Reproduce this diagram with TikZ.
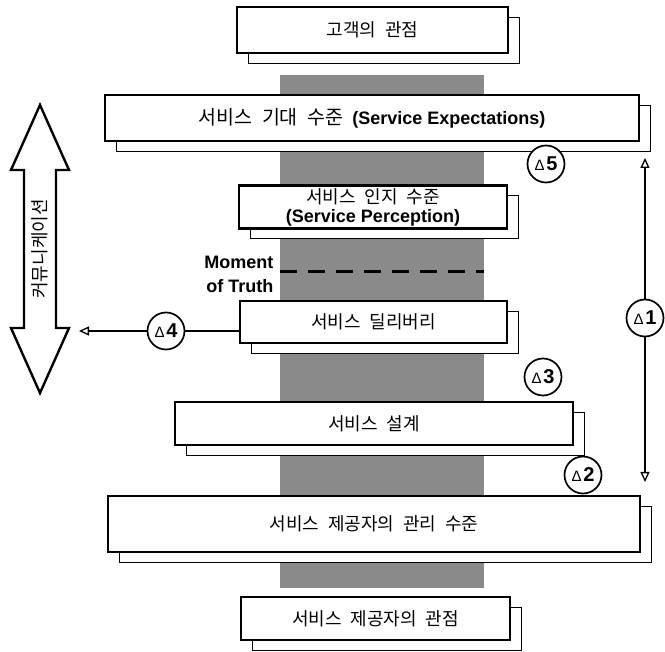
\documentclass[tikz,border=0pt]{standalone}
\usepackage{fontspec}
\setmainfont{Liberation Sans}
\newfontfamily\kr[WordSpace=2.2]{Noto Sans CJK KR}
\usepackage{tikz}
\usetikzlibrary{shadows,arrows.meta}
\tikzstyle{levelbox} = [draw, line width=2.2pt, fill=white, inner sep=0pt, align=center, font=\kr\fontsize{18}{22}\selectfont, copy shadow={shadow xshift=11pt, shadow yshift=-10pt, draw=black, line width=0.8pt, fill=white}]
\tikzstyle{gap} = [circle, draw, line width=1.7pt, fill=white, minimum size=37pt, inner sep=0pt]
\tikzstyle{link} = [line width=1.3pt, -{Triangle[open,length=10pt,width=9pt]}]
\newcommand{\engl}[1]{{\normalfont\bfseries #1}}
\newcommand{\gapno}[1]{{\normalfont\fontsize{15}{15}\selectfont Δ}\,{\normalfont\bfseries\fontsize{20}{20}\selectfont #1}}

\begin{document}
\begin{tikzpicture}[x=1pt,y=-1pt]
\useasboundingbox (0,0) rectangle (665,652);
%\draw[help lines,step=50] (0,0) grid (665,652);
\fill[black!46] (280,75) rectangle (484,588);
\draw[line width=3pt, dash pattern=on 17pt off 11pt] (280,272) -- (484,272);
\node[font=\bfseries\fontsize{18}{24}\selectfont, align=right, anchor=east] (truth) at (277,274) {Moment\\of Truth};

\node[levelbox, minimum width=271pt, minimum height=46pt] (customer) at (372.5,30) {고객의 관점};
\node[levelbox, minimum width=534pt, minimum height=46pt] (expect) at (372,118) {{\fontsize{19.5}{22}\selectfont 서비스 기대 수준} \engl{(Service Expectations)}};
\node[levelbox, minimum width=268pt, minimum height=43pt, font=\kr\fontsize{18}{19}\selectfont] (percept) at (373,207) {서비스 인지 수준\\\engl{(Service Perception)}};
\node[levelbox, minimum width=267pt, minimum height=42pt] (delivery) at (373.5,322) {서비스 딜리버리};
\node[levelbox, minimum width=398pt, minimum height=43pt] (design) at (374,423.5) {서비스 설계};
\node[levelbox, minimum width=532pt, minimum height=56pt] (manage) at (374,524) {서비스 제공자의 관리 수준};
\node[levelbox, minimum width=269pt, minimum height=43pt] (provider) at (375.5,618.5) {서비스 제공자의 관점};

% communication
\draw[line width=2.4pt, fill=white] (40,105) -- (69,170) -- (56,170) -- (56,328) -- (69,328) -- (40,393)
	-- (11,328) -- (24,328) -- (24,170) -- (11,170) -- cycle;
\node[rotate=90, font=\kr\fontsize{18}{18}\selectfont] (comm) at (40,249) {커뮤니케이션};

\node[gap] (gap5) at (546,164) {\gapno{5}};
\node[gap] (gap4) at (166,331) {\gapno{4}};
\node[gap] (gap3) at (543,377) {\gapno{3}};
\node[gap] (gap2) at (583,475) {\gapno{2}};
\node[gap] (gap1) at (645,318) {\gapno{1}};

\coordinate (tip4) at (79,331);
\coordinate (top1) at (645,158);
\coordinate (bot1) at (645,482);
\draw[line width=1.5pt] (gap4) -- (gap4 -| delivery.west);
\draw[link] (gap4) -- (tip4);
\draw[link] (gap1) -- (top1);
\draw[link] (gap1) -- (bot1);
\end{tikzpicture}
\end{document}
